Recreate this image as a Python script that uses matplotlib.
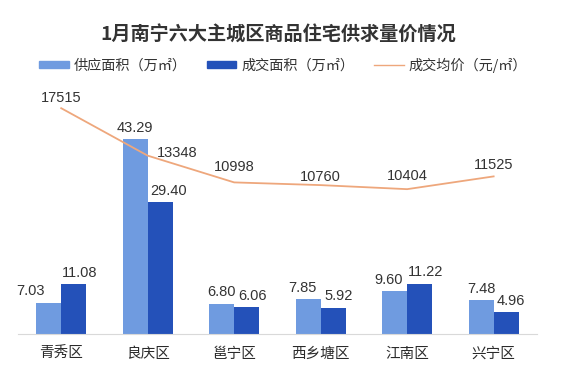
import numpy as np
import matplotlib.pyplot as plt
from matplotlib.patches import Patch
from matplotlib.lines import Line2D

plt.rcParams['font.family'] = ['Noto Sans CJK SC', 'DejaVu Sans']

districts = ['青秀区', '良庆区', '邕宁区', '西乡塘区', '江南区', '兴宁区']
supply = [7.03, 43.29, 6.80, 7.85, 9.60, 7.48]
deal = [11.08, 29.40, 6.06, 5.92, 11.22, 4.96]
price = [17515, 13348, 10998, 10760, 10404, 11525]

c_light = '#6f9be0'
c_dark = '#2451b9'
c_line = '#eea77c'
num_font = ['Liberation Sans', 'DejaVu Sans']

fig = plt.figure(figsize=(5.61, 3.78), dpi=100)
ax = fig.add_axes([0.032, 0.116, 0.925, 0.619])
x = np.arange(len(districts))
w = 0.29

ax.bar(x - w/2, supply, w, color=c_light, zorder=2)
ax.bar(x + w/2, deal, w, color=c_dark, zorder=2)

# label nudges (points) so neighbouring numbers don't collide
dx_light = [-13, 0, 0, -4, -4, 0]
dx_dark = [4, 6, 4, 4, 4, 3]
for xi, v, d in zip(x, supply, dx_light):
    ax.annotate(f'{v:.2f}', (xi - w/2, v), xytext=(d, 3), textcoords='offset points',
                ha='center', va='bottom', fontsize=10.5, color='#333333', family=num_font)
for xi, v, d in zip(x, deal, dx_dark):
    ax.annotate(f'{v:.2f}', (xi + w/2, v), xytext=(d, 3), textcoords='offset points',
                ha='center', va='bottom', fontsize=10.5, color='#333333', family=num_font)

ax.set_xlim(-0.5, 5.5)
ax.set_ylim(0, 52)
ax.set_xticks(x)
ax.set_xticklabels(districts, fontsize=10.5, color='#2a2a2a')
ax.tick_params(axis='x', length=0, pad=9)
ax.set_yticks([])
for s in ['top', 'left', 'right']:
    ax.spines[s].set_visible(False)
ax.spines['bottom'].set_color('#d9d9d9')

ax2 = ax.twinx()
ax2.plot(x, price, color=c_line, lw=1.3, zorder=3)
ax2.set_ylim(-2330, 18220)
ax2.set_yticks([])
for s in ['top', 'left', 'right', 'bottom']:
    ax2.spines[s].set_visible(False)
offsets = [(0, 7), (21, 2), (0, 11), (0, 6), (0, 9.5), (0, 8)]
for xi, v, (dx, dy) in zip(x, price, offsets):
    ax2.annotate(str(v), (xi, v), xytext=(dx, dy), textcoords='offset points',
                 ha='center', va='center', fontsize=10.5, color='#333333', family=num_font)

fig.text(0.495, 0.91, '1月南宁六大主城区商品住宅供求量价情况', ha='center', va='center',
         fontsize=13.8, fontweight='bold', color='#333333')

handles = [Patch(color=c_light), Patch(color=c_dark), Line2D([0], [0], color=c_line, lw=1)]
labels = ['供应面积（万㎡）', '成交面积（万㎡）', '成交均价（元/㎡）']
fig.legend(handles, labels, loc='center', bbox_to_anchor=(0.505, 0.828), ncol=3,
           frameon=False, fontsize=10.2, handlelength=2.1, handleheight=0.3,
           columnspacing=1.4, handletextpad=0.35, labelcolor='#333333')

fig.savefig('out.png', dpi=100)
